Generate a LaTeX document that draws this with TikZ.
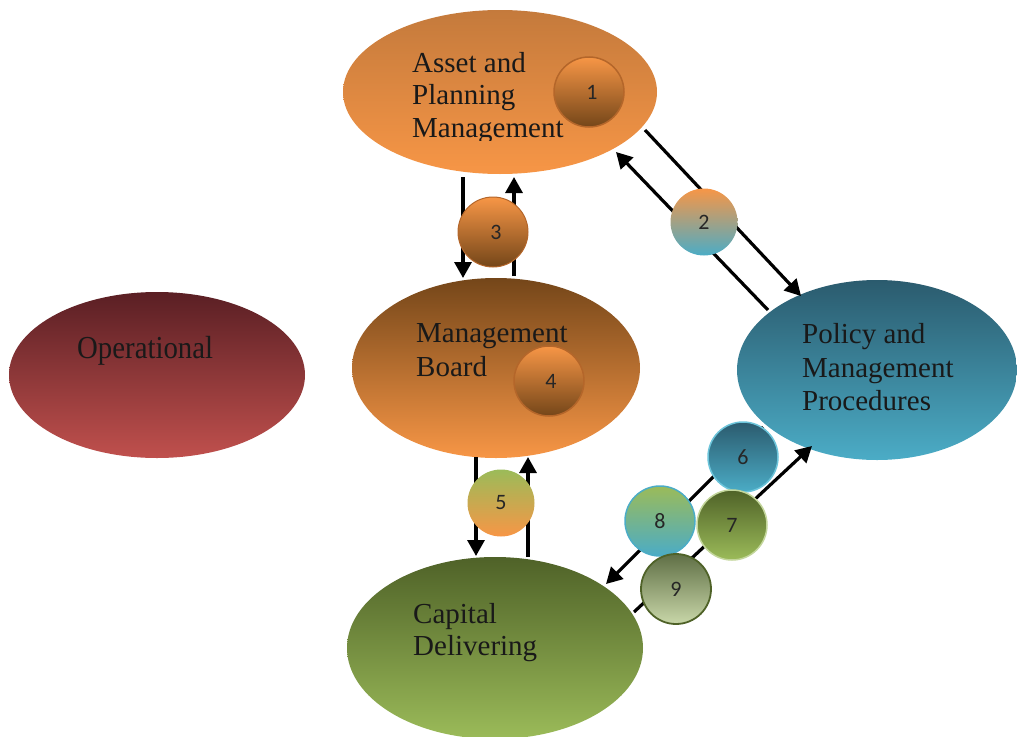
\documentclass[tikz,border=0pt]{standalone}
\usepackage{fontspec}
\setmainfont{Liberation Serif}
\newfontfamily\numfont{Carlito}
\usetikzlibrary{shapes.geometric,arrows.meta}
\definecolor{orL}{HTML}{F79646}
\definecolor{orT}{HTML}{C47A3C}
\definecolor{brD}{HTML}{744619}
\definecolor{brB}{HTML}{B4662A}
\definecolor{rdT}{HTML}{5A1F24}
\definecolor{rdB}{HTML}{C0504D}
\definecolor{blT}{HTML}{2B5B6E}
\definecolor{blB}{HTML}{4BACC6}
\definecolor{blE}{HTML}{6CC4DA}
\definecolor{gnT}{HTML}{4F6228}
\definecolor{gnB}{HTML}{9BBB59}
\definecolor{gnE}{HTML}{C3D69B}
\definecolor{olT}{HTML}{5F6F45}
\definecolor{olB}{HTML}{C9D7A9}
\tikzset{
  big/.style={ellipse, inner sep=0pt, draw=none},
  lbl/.style={anchor=base west, inner sep=0pt, font=\fontsize{29}{33}\selectfont, text=black!90},
  num/.style={circle, minimum size=70pt, inner sep=0pt, font=\numfont\fontsize{22}{24}\selectfont, text=black!85},
  arr/.style={line width=3.2pt, -{Triangle[length=16pt,width=17pt]}}
}
\begin{document}
\begin{tikzpicture}[x=1pt,y=-1pt]
\useasboundingbox (0,0) rectangle (1017,736);
% big ellipses
\node[big, minimum width=314pt, minimum height=164pt, top color=orT, bottom color=orL] (apm) at (500,92) {};
\node[big, minimum width=288pt, minimum height=180pt, top color=brD, bottom color=orL] (mb) at (496,368) {};
\node[big, minimum width=296pt, minimum height=166pt, top color=rdT, bottom color=rdB] (op) at (157,375) {};
\node[big, minimum width=280pt, minimum height=180pt, top color=blT, bottom color=blB] (pol) at (877,370) {};
\node[big, minimum width=296pt, minimum height=182pt, top color=gnT, bottom color=gnB] (cap) at (495,648) {};
% labels
\begin{scope}
\clip (400,30) rectangle (590,140);
\node[lbl] (apm1) at (412,72) {Asset and};
\node[lbl] (apm2) at (412,104) {Planning};
\node[lbl] (apm3) at (412,137) {Management};
\end{scope}
\node[lbl] (mb1) at (416,342) {Management};
\node[lbl] (mb2) at (416,376) {Board};
\node[lbl, font=\fontsize{32}{36}\selectfont\addfontfeature{FakeStretch=0.9}] (op1) at (77,358) {Operational};
\node[lbl] (pol1) at (802,343) {Policy and};
\node[lbl] (pol2) at (802,377) {Management};
\node[lbl] (pol3) at (802,410) {Procedures};
\node[lbl] (cap1) at (413,623) {Capital};
\node[lbl] (cap2) at (413,655) {Delivering};
% connector end points
\coordinate (a1) at (463,177); \coordinate (a2) at (463,278);
\coordinate (b1) at (514,276); \coordinate (b2) at (514,177);
\coordinate (c1) at (645,130); \coordinate (c2) at (801,296);
\coordinate (d1) at (768,310); \coordinate (d2) at (616,152);
\coordinate (e1) at (476,457); \coordinate (e2) at (476,556);
\coordinate (f1) at (528,557); \coordinate (f2) at (528,457);
\coordinate (g1) at (763,427); \coordinate (g2) at (606,584);
\coordinate (h1) at (634,612); \coordinate (h2) at (812,446);
\draw[arr] (a1) -- (a2);
\draw[arr] (b1) -- (b2);
\draw[arr] (c1) -- (c2);
\draw[arr] (d1) -- (d2);
\draw[arr] (e1) -- (e2);
\draw[arr] (f1) -- (f2);
\draw[arr] (g1) -- (g2);
\draw[arr] (h1) -- (h2);
% numbered circles
\node[num, top color=orL, bottom color=brD, draw=brB, line width=1.5pt] (n1) at (589,92) {\hspace{6pt}1};
\node[num, minimum size=67pt, top color=orL, bottom color=blB] (n2) at (704,222) {2};
\node[num, top color=orL, bottom color=brD, draw=brB, line width=1pt] (n3) at (493,232) {\hspace{6pt}3};
\node[num, top color=orL, bottom color=brD, draw=brB, line width=1.5pt] (n4) at (549,381) {\hspace{4pt}4};
\node[num, minimum size=67pt, top color=gnB, bottom color=orL] (n5) at (501,503) {5};
\node[num, top color=blT, bottom color=blB, draw=blE, line width=1.5pt] (n6) at (743,457) {6};
\node[num, top color=gnB, bottom color=blB, draw=blB, line width=1.5pt] (n8) at (660,521) {8};
\node[num, top color=olT, bottom color=olB, draw=gnT, line width=1.8pt] (n9) at (676,589) {9};
\node[num, top color=gnT, bottom color=gnB, draw=gnE, line width=1.5pt] (n7) at (732,525) {7};
\end{tikzpicture}
\end{document}
